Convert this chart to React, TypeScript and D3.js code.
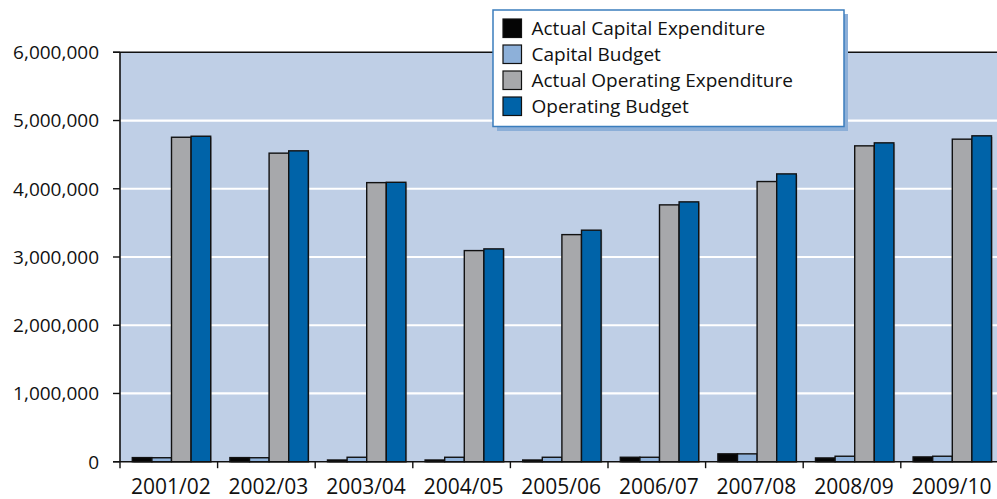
import React from 'react';
import * as d3 from 'd3';

const years = ['2001/02', '2002/03', '2003/04', '2004/05', '2005/06', '2006/07', '2007/08', '2008/09', '2009/10'];
const actualCapital = [60000, 60000, 25000, 25000, 25000, 65000, 115000, 55000, 70000];
const capitalBudget = [58000, 58000, 65000, 65000, 65000, 65000, 115000, 80000, 80000];
const actualOperating = [4755000, 4522000, 4090000, 3094000, 3328000, 3764000, 4106000, 4629000, 4727000];
const operatingBudget = [4770000, 4556000, 4095000, 3119000, 3393000, 3808000, 4218000, 4673000, 4776000];
const yTicks = [0, 1000000, 2000000, 3000000, 4000000, 5000000, 6000000];

const seriesNames = ['Actual Capital Expenditure', 'Capital Budget', 'Actual Operating Expenditure', 'Operating Budget'];
const seriesColors = ['#050505', '#8db0d9', '#a7a8ab', '#0063a8'];
const seriesValues = [actualCapital, capitalBudget, actualOperating, operatingBudget];

const W = 997;
const H = 499;
const plotLeft = 120;
const plotRight = 998.4;
const plotTop = 52.3;
const plotBottom = 461.7;
const font = '"Open Sans", sans-serif';

export default function App() {
  const x = d3.scaleBand<string>().domain(years).range([plotLeft, plotRight]).padding(0);
  const xs = d3.scaleBand<string>().domain(seriesNames).range([12.3, 12.3 + 78.4]).padding(0);
  const y = d3.scaleLinear().domain([0, 6000000]).range([plotBottom, plotTop]);
  const fmt = d3.format(',');

  return (
    <svg width={W} height={H} style={{ position: 'absolute', left: 0, top: 0, display: 'block' }}>
      <rect x={0} y={0} width={W} height={H} fill="#ffffff" />
      {/* plot background */}
      <rect x={plotLeft} y={plotTop} width={plotRight - plotLeft} height={plotBottom - plotTop} fill="#bfcfe6" />
      {/* gridlines */}
      {yTicks.filter(t => t > 0 && t < 6000000).map(t => (
        <line key={t} x1={plotLeft} x2={plotRight} y1={y(t)} y2={y(t)} stroke="#ffffff" strokeWidth={2.2} />
      ))}
      {/* bars */}
      {years.map((yr, i) => (
        <g key={yr} transform={`translate(${x(yr)},0)`}>
          {seriesNames.map((s, k) => {
            const v = seriesValues[k][i];
            const bx = xs(s) as number;
            const bw = xs.bandwidth();
            const top = y(v);
            return (
              <g key={s}>
                <rect x={bx + 1.2} y={top + 1.2} width={bw} height={plotBottom - top} fill="#555" opacity={0.35} />
                <rect x={bx} y={top} width={bw} height={plotBottom - top} fill={seriesColors[k]} stroke="#111" strokeWidth={1.4} />
              </g>
            );
          })}
        </g>
      ))}
      {/* axes */}
      <line x1={113} x2={W} y1={plotTop} y2={plotTop} stroke="#111" strokeWidth={1.4} />
      <line x1={plotLeft} x2={plotLeft} y1={plotTop} y2={plotBottom} stroke="#111" strokeWidth={1.6} />
      <line x1={113} x2={W} y1={plotBottom} y2={plotBottom} stroke="#111" strokeWidth={1.6} />
      {yTicks.map(t => (
        <g key={t}>
          <line x1={113} x2={plotLeft} y1={y(t)} y2={y(t)} stroke="#111" strokeWidth={1.4} />
          <text x={99} y={y(t)} dy="0.36em" textAnchor="end" fontFamily={font} fontSize={19} fill="#111">
            {fmt(t)}
          </text>
        </g>
      ))}
      {years.map(yr => (
        <g key={yr}>
          <line x1={x(yr)} x2={x(yr)} y1={plotBottom} y2={plotBottom + 6.5} stroke="#111" strokeWidth={1.4} />
          <text x={(x(yr) as number) + x.bandwidth() / 2 + 2} y={494} textAnchor="middle" fontFamily={font} fontSize={21} fill="#111">
            {yr}
          </text>
        </g>
      ))}
      {/* legend */}
      <g>
        <rect x={497} y={14} width={351} height={117} fill="#8cafd8" />
        <rect x={493} y={10} width={351} height={116.5} fill="#ffffff" stroke="#3b7dbd" strokeWidth={1.5} />
        {seriesNames.map((s, k) => {
          const cy = 28.5 + k * 26;
          return (
            <g key={s}>
              <rect x={503} y={cy - 9.5} width={18.5} height={18.5} fill={seriesColors[k]} stroke="#111" strokeWidth={1.2} />
              <text x={531.5} y={cy} dy="0.36em" fontFamily={font} fontSize={19} fill="#111">
                {s}
              </text>
            </g>
          );
        })}
      </g>
    </svg>
  );
}
